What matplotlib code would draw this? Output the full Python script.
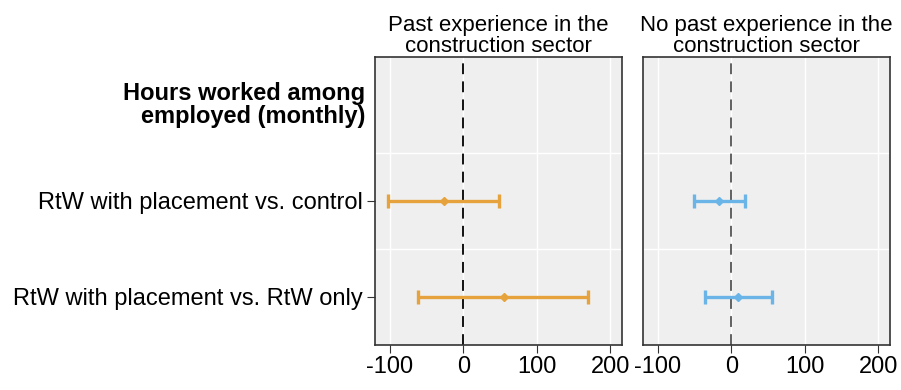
import matplotlib.pyplot as plt

plt.rcParams['font.family'] = ['Liberation Sans', 'DejaVu Sans']

# data
panels = ["Past experience in the\nconstruction sector",
          "No past experience in the\nconstruction sector"]
comparisons = ["RtW with placement vs. control", "RtW with placement vs. RtW only"]
heading = "Hours worked among\nemployed (monthly)"

past_est = [-26, 55]
past_low = [-102, -61]
past_high = [49, 170]

nopast_est = [-16, 9]
nopast_low = [-51, -36]
nopast_high = [19, 55]

colors = ["#E6A23C", "#6AB4E8"]
zero_colors = ["black", "#555555"]

fig = plt.figure(figsize=(9.01, 3.9), dpi=100)
ax1 = fig.add_axes([375/901, 1-345/390, 247/901, 288/390])
ax2 = fig.add_axes([643/901, 1-345/390, 247/901, 288/390])

ypos = [2, 1]
series = [(past_est, past_low, past_high), (nopast_est, nopast_low, nopast_high)]

for i, ax in enumerate([ax1, ax2]):
    est, low, high = series[i]
    ax.set_facecolor("#EFEFEF")
    ax.set_xlim(-120, 216)
    ax.set_ylim(0.5, 3.5)
    ax.set_xticks([-100, 0, 100, 200])
    ax.set_xticklabels(["-100", "0", "100", "200"])
    ax.set_yticks([1.5, 2.5], minor=True)
    ax.grid(True, which="major", axis="x", color="white", lw=1)
    ax.grid(True, which="minor", axis="y", color="white", lw=1)
    ax.set_axisbelow(True)
    ax.axvline(0, color=zero_colors[i], ls=(0, (6, 4)), lw=1.3, zorder=1)
    xerr = [[e - l for e, l in zip(est, low)], [h - e for e, h in zip(est, high)]]
    ax.errorbar(est, ypos, xerr=xerr, fmt="D", color=colors[i], ms=4.5,
                lw=2.4, capsize=5, capthick=2.4, zorder=3)
    for s in ax.spines.values():
        s.set_color("#333333")
        s.set_linewidth(1.2)
    ax.tick_params(axis="x", labelsize=17, length=6, color="#333333", pad=2)
    ax.tick_params(axis="y", which="minor", length=0)
    ax.set_title(panels[i], fontsize=16, pad=3, linespacing=1.0)

ax1.set_yticks(ypos)
ax1.set_yticklabels(comparisons)
ax1.tick_params(axis="y", labelsize=17, length=6, color="#333333", pad=3)
ax2.set_yticks([])
ax1.text(-0.04, 3.0, heading, transform=ax1.get_yaxis_transform(),
         ha="right", va="center", fontsize=17, fontweight="bold", linespacing=1.0)

fig.savefig("out.png", dpi=100)
